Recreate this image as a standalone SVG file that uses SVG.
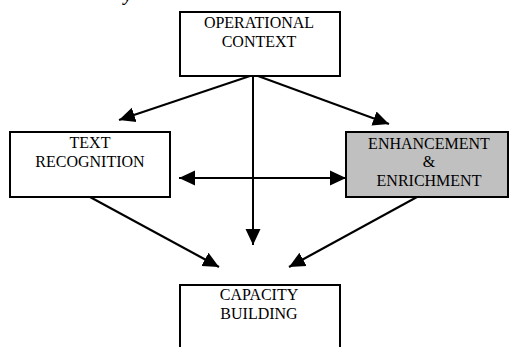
<svg xmlns="http://www.w3.org/2000/svg" width="510" height="347" viewBox="0 0 510 347">
<style>
.box{fill:#ffffff;stroke:#000;stroke-width:2}
.grey{fill:#c0c0c0}
.lbl{font-family:"Liberation Serif","Times New Roman",serif;font-size:16px;fill:#000;text-anchor:middle}
.conn{stroke:#000;stroke-width:2;fill:none}
</style>
<defs>
<marker id="ah" markerUnits="userSpaceOnUse" markerWidth="17" markerHeight="16" refX="16" refY="8" orient="auto-start-reverse" viewBox="0 0 17 16">
<path d="M0,0.5 L16,8 L0,15.5 z" fill="#000"/>
</marker>
</defs>
<rect width="510" height="347" fill="#fff"/>
<text x="124" y="1" style="font-family:'Liberation Serif',serif;font-size:18px;font-weight:bold;font-style:italic">y</text>
<g id="operational-context">
<rect class="box" x="180" y="12" width="160" height="64"/>
<text class="lbl" x="259" y="28">OPERATIONAL</text>
<text class="lbl" x="259" y="47">CONTEXT</text>
</g>
<g id="text-recognition">
<rect class="box" x="10" y="132" width="160" height="65"/>
<text class="lbl" x="90" y="148">TEXT</text>
<text class="lbl" x="90" y="167">RECOGNITION</text>
</g>
<g id="enhancement-enrichment">
<rect class="box grey" x="346" y="132" width="162" height="65"/>
<text class="lbl" x="429" y="149">ENHANCEMENT</text>
<text class="lbl" x="429" y="167">&amp;</text>
<text class="lbl" x="429" y="186">ENRICHMENT</text>
</g>
<g id="capacity-building">
<rect class="box" x="180" y="285" width="160" height="80"/>
<text class="lbl" x="259" y="300">CAPACITY</text>
<text class="lbl" x="259" y="319">BUILDING</text>
</g>
<g id="connectors">
<line class="conn" x1="250" y1="76" x2="119" y2="120" marker-end="url(#ah)"/>
<line class="conn" x1="258" y1="76" x2="389" y2="124" marker-end="url(#ah)"/>
<line class="conn" x1="253" y1="76" x2="253" y2="245" marker-end="url(#ah)"/>
<line class="conn" x1="179" y1="178" x2="346" y2="178" marker-start="url(#ah)" marker-end="url(#ah)"/>
<line class="conn" x1="90" y1="197" x2="219" y2="267" marker-end="url(#ah)"/>
<line class="conn" x1="417" y1="197" x2="289" y2="267" marker-end="url(#ah)"/>
</g>
</svg>
